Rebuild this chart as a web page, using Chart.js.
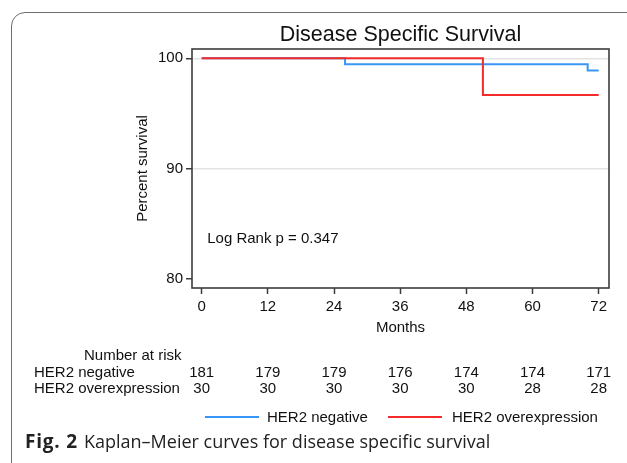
<!DOCTYPE html>
<html>
<head>
<meta charset="utf-8">
<script src="https://cdn.jsdelivr.net/npm/chart.js@4.4.1/dist/chart.umd.min.js"></script>
<style>
  html, body { margin: 0; padding: 0; background: #fff; }
  #wrap { position: relative; width: 627px; height: 463px; overflow: hidden; background: #fff; }
  #frame { position: absolute; left: 11px; top: 12px; width: 700px; height: 470px; border: 1.5px solid #6e6e6e; border-radius: 14px; box-sizing: border-box; }
  canvas { position: absolute; left: 0; top: 0; }
  .t { position: absolute; font-family: 'Liberation Sans', Arial, sans-serif; font-size: 15px; line-height: 16px; color: #111; white-space: nowrap; }
  .c { transform: translateX(-50%); }
  .leg { position: absolute; height: 2px; }
  #caption { position: absolute; left: 25px; top: 429px; font-family: 'Open Sans', sans-serif; font-size: 18px; line-height: 24px; color: #222; white-space: nowrap; }
  #caption b { font-weight: 700; font-size: 19px; letter-spacing: 0.8px; margin-right: 6px; }
</style>
</head>
<body>
<div id="wrap">
  <div id="frame"></div>
  <canvas id="chart" width="627" height="463"></canvas>
  <div id="caption"><b>Fig. 2</b>Kaplan–Meier curves for disease specific survival</div>
</div>
<script>
// ---- data ----
const xTicks = [0, 12, 24, 36, 48, 60, 72];
const yTicks = [80, 90, 100];
const negTimes = [0, 26, 70, 72];
const negSurv = [100, 99.45, 98.90, 98.90];
const overTimes = [0, 51, 72];
const overSurv = [100, 96.67, 96.67];
const riskTimes = [0, 12, 24, 36, 48, 60, 72];
const riskNeg = [181, 179, 179, 176, 174, 174, 171];
const riskOver = [30, 30, 30, 30, 30, 28, 28];
const seriesNames = ['HER2 negative', 'HER2 overexpression'];
const seriesColors = ['#3896f7', '#f52a2a'];
const pText = 'Log Rank p = 0.347';

Chart.defaults.font.family = "'Liberation Sans', Arial, sans-serif";
Chart.defaults.color = '#111';

const framePlugin = {
  id: 'frame',
  afterDraw(chart) {
    const a = chart.chartArea, ctx = chart.ctx;
    ctx.save();
    ctx.strokeStyle = '#3c3c3c';
    ctx.lineWidth = 1.6;
    ctx.strokeRect(a.left, a.top, a.right - a.left, a.bottom - a.top);
    ctx.restore();
  }
};

const chart = new Chart(document.getElementById('chart'), {
  type: 'line',
  data: {
    datasets: [
      { label: seriesNames[0], data: negTimes.map((t, i) => ({ x: t, y: negSurv[i] })), order: 2,
        borderColor: seriesColors[0], borderWidth: 2, stepped: true, pointRadius: 0, fill: false },
      { label: seriesNames[1], data: overTimes.map((t, i) => ({ x: t, y: overSurv[i] })), order: 1,
        borderColor: seriesColors[1], borderWidth: 2, stepped: true, pointRadius: 0, fill: false }
    ]
  },
  options: {
    responsive: false,
    animation: false,
    layout: { padding: { left: 0, right: 18, top: 0, bottom: 0 } },
    plugins: {
      legend: { display: false },
      tooltip: { enabled: false },
      title: { display: true, text: 'Disease Specific Survival', fullSize: false,
        font: { size: 21.5, weight: 'normal' }, color: '#111', padding: { top: 22, bottom: 1.2 } }
    },
    scales: {
      x: {
        type: 'linear', min: -1.76, max: 73.87,
        afterBuildTicks: s => { s.ticks = xTicks.map(v => ({ value: v })); },
        afterFit: s => { s.height = 175; },
        ticks: { font: { size: 15 }, color: '#111', padding: 4, maxRotation: 0, autoSkip: false },
        grid: { drawOnChartArea: false, drawTicks: true, tickLength: 6, tickColor: '#3c3c3c', tickWidth: 1.5 },
        border: { display: false },
        title: { display: true, text: 'Months', font: { size: 15 }, color: '#111', padding: { top: 0, bottom: 126 } }
      },
      y: {
        type: 'linear', min: 79.19, max: 100.84,
        afterBuildTicks: s => { s.ticks = yTicks.map(v => ({ value: v })); },
        afterFit: s => { s.width = 192; },
        ticks: { font: { size: 15 }, color: '#111', padding: 3 },
        grid: { drawTicks: true, tickLength: 6, tickColor: '#3c3c3c', tickWidth: 1.5, lineWidth: 1.5,
          color: c => (c.tick && c.tick.value === 80) ? 'rgba(0,0,0,0)' : '#e3e3e3' },
        border: { display: false },
        title: { display: true, text: 'Percent survival', font: { size: 15 }, color: '#111', padding: { top: 134, bottom: 0 } }
      }
    }
  },
  plugins: [framePlugin]
});

// ---- overlay text placed through the chart's scales ----
const wrap = document.getElementById('wrap');
const xs = chart.scales.x, ys = chart.scales.y;
function addText(txt, left, centerY, cls) {
  const d = document.createElement('div');
  d.className = 't' + (cls ? ' ' + cls : '');
  d.textContent = txt;
  d.style.left = left + 'px';
  d.style.top = (centerY - 8) + 'px';
  wrap.appendChild(d);
  return d;
}
// p-value annotation
addText(pText, xs.getPixelForValue(1), ys.getPixelForValue(83.7));
// number at risk table
addText('Number at risk', 84, 355);
addText(seriesNames[0], 34, 372);
addText(seriesNames[1], 34, 388);
riskTimes.forEach((t, i) => {
  const px = xs.getPixelForValue(t);
  addText(String(riskNeg[i]), px, 372, 'c');
  addText(String(riskOver[i]), px, 388, 'c');
});
// legend
const legendItems = [{ x: 205, tx: 267 }, { x: 388, tx: 452 }];
legendItems.forEach((it, i) => {
  const l = document.createElement('div');
  l.className = 'leg';
  l.style.left = it.x + 'px';
  l.style.top = '416px';
  l.style.width = '54px';
  l.style.background = seriesColors[i];
  wrap.appendChild(l);
  addText(seriesNames[i], it.tx, 417);
});
</script>
</body>
</html>
